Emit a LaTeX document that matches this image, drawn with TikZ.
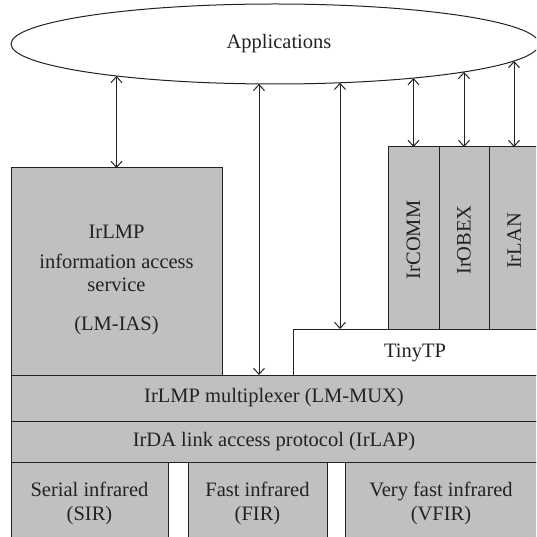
\documentclass[tikz,border=0pt]{standalone}
\usepackage{fontspec}
\setmainfont{Liberation Serif}
\usetikzlibrary{shapes.geometric,arrows.meta}
\definecolor{boxgray}{HTML}{C0C0C0}
\definecolor{ink}{HTML}{222222}
\begin{document}
\begin{tikzpicture}[x=1pt,y=-1pt,
  layer/.style={draw=ink, line width=1pt, fill=boxgray, anchor=north west, inner sep=0pt, outer sep=0pt},
  txt/.style={text=ink, font=\fontsize{20.5}{24}\selectfont, inner sep=0pt},
  link/.style={draw=ink, line width=1pt, {Straight Barb[length=6pt,width=11pt]}-{Straight Barb[length=6pt,width=11pt]}}]
\useasboundingbox (0,0) rectangle (536,537);
\clip (0,0) rectangle (536,537);
% application ellipse
\node[ellipse, draw=ink, line width=1pt, minimum width=528pt, minimum height=80pt, inner sep=0pt, outer sep=0pt] (app) at (275,44) {};
\node[txt] (appt) at (279,44) {Applications};
% layers
\node[layer, minimum width=211pt, minimum height=207pt] (ias) at (11,168) {};
\node[layer, fill=white, minimum width=254pt, minimum height=46pt] (tinytp) at (293,329) {};
\node[layer, minimum width=51pt, minimum height=182pt] (ircomm) at (388,147) {};
\node[layer, minimum width=50pt, minimum height=182pt] (irobex) at (439,147) {};
\node[layer, minimum width=58pt, minimum height=182pt] (irlan) at (489,147) {};
\node[layer, minimum width=536pt, minimum height=46pt] (mux) at (11,375) {};
\node[layer, minimum width=536pt, minimum height=41pt] (lap) at (11,421) {};
\node[layer, minimum width=157pt, minimum height=90pt] (sir) at (11,462) {};
\node[layer, minimum width=139pt, minimum height=90pt] (fir) at (188,462) {};
\node[layer, minimum width=200pt, minimum height=90pt] (vfir) at (345,462) {};
% texts
\node[txt, anchor=base] (ias1) at (116.5,238) {IrLMP};
\node[txt, anchor=base] (ias2) at (116.5,268) {information access};
\node[txt, anchor=base] (ias3) at (116.5,291) {service};
\node[txt, anchor=base] (ias4) at (116.5,330) {(LM-IAS)};
\node[txt] (tinyt) at (415,353) {TinyTP};
\node[txt, rotate=90] (commt) at (413.5,240) {IrCOMM};
\node[txt, rotate=90] (obext) at (464,240) {IrOBEX};
\node[txt, rotate=90] (lant) at (514,241) {IrLAN};
\node[txt] (muxt) at (274,398) {IrLMP multiplexer (LM-MUX)};
\node[txt] (lapt) at (274,442) {IrDA link access protocol (IrLAP)};
\node[txt, anchor=base] (sir1) at (89.5,496) {Serial infrared};
\node[txt, anchor=base] (sir2) at (89.5,520) {(SIR)};
\node[txt, anchor=base] (fir1) at (257.5,496) {Fast infrared};
\node[txt, anchor=base] (fir2) at (257.5,520) {(FIR)};
\node[txt, anchor=base] (vfir1) at (441,496) {Very fast infrared};
\node[txt, anchor=base] (vfir2) at (441,520) {(VFIR)};
% points on the ellipse
\coordinate (e1) at (116.5,75.9);
\coordinate (e2) at (259,83.9);
\coordinate (e3) at (340,82.8);
\coordinate (e4) at (413.5,78.1);
\coordinate (e5) at (464,71.9);
\coordinate (e6) at (514,61.0);
% connectors
\draw[link] (e1) -- (ias.north);
\draw[link] (e2) -- (mux.north -| e2);
\draw[link] (e3) -- (tinytp.north -| e3);
\draw[link] (e4) -- (ircomm.north);
\draw[link] (e5) -- (irobex.north);
\draw[link] (e6) -- (irlan.north -| e6);
\end{tikzpicture}
\end{document}
